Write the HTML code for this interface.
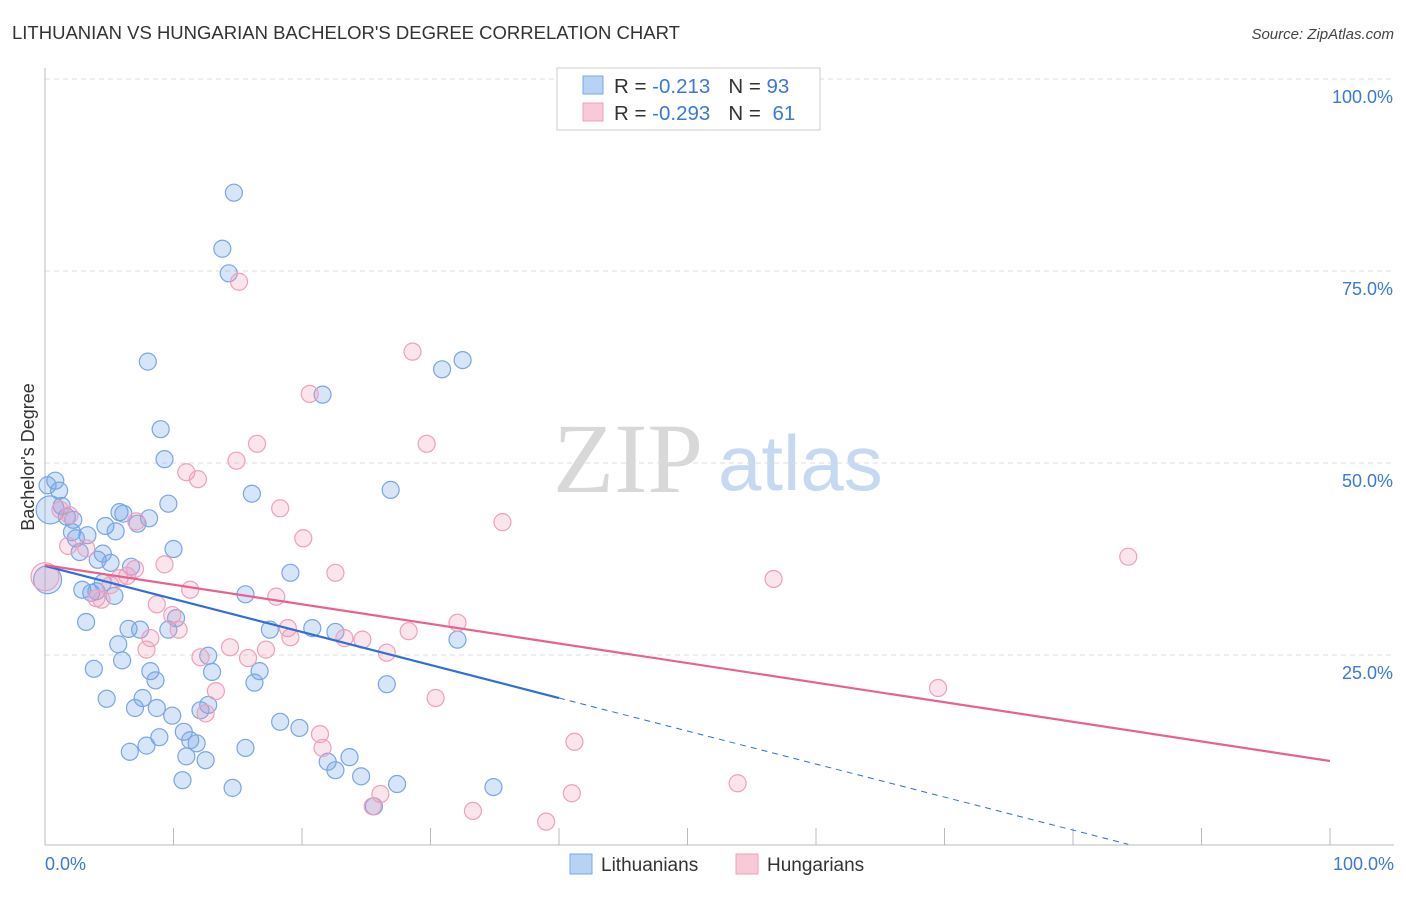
<!DOCTYPE html>
<html><head><meta charset="utf-8"><style>
body{margin:0;background:#fff;font-family:"Liberation Sans",sans-serif;}
svg text{font-family:"Liberation Sans",sans-serif;}
</style></head><body>
<svg id="chart" width="1406" height="892" xmlns="http://www.w3.org/2000/svg">
<text x="12" y="39" font-size="18.5" fill="#333">LITHUANIAN VS HUNGARIAN BACHELOR'S DEGREE CORRELATION CHART</text>
<text x="1394" y="39" font-size="15" fill="#444" text-anchor="end" font-style="italic">Source: ZipAtlas.com</text>
<g>
<text x="553" y="492" font-size="100" fill="#d8d8d8" style="font-family:'Liberation Serif',serif">ZIP</text>
<text x="718" y="490" font-size="78" fill="#c7d9f0">atlas</text>
</g>
<g id="grid"></g>
<g id="axes"></g>
<g id="marks"></g>
<text transform="translate(34,457) rotate(-90)" font-size="18" fill="#333" text-anchor="middle">Bachelor's Degree</text>
<g>
<rect x="557" y="68" width="263" height="62" fill="#fff" stroke="#ccc"/>
<rect x="583" y="76" width="20" height="18" fill="#b8d2f5" stroke="#7fa8e0"/>
<rect x="583" y="103" width="20" height="18" fill="#f9c9d8" stroke="#eea0b8"/>
<text x="614" y="93" font-size="20.5" fill="#333">R = <tspan fill="#3b78d8">-0.213</tspan><tspan dx="18">N = </tspan><tspan fill="#3b78d8">93</tspan></text>
<text x="614" y="120" font-size="20.5" fill="#333">R = <tspan fill="#3b78d8">-0.293</tspan><tspan dx="18">N = </tspan><tspan dx="6" fill="#3b78d8">61</tspan></text>
</g>
<g>
<rect x="570" y="854" width="22" height="20" fill="#b8d2f5" stroke="#7fa8e0"/>
<text x="601" y="871" font-size="19" fill="#333">Lithuanians</text>
<rect x="736" y="854" width="22" height="20" fill="#f9c9d8" stroke="#eea0b8"/>
<text x="767" y="871" font-size="19" fill="#333">Hungarians</text>
</g>
</svg>
<script>
const yTicks=[25,50,75,100];
const yTickLabels=["25.0%","50.0%","75.0%","100.0%"];
const xLabels=["0.0%","100.0%"];
const blueX=[14.7,13.8,14.3,8.0,21.6,32.5,30.9,9.0,9.3,16.1,26.9,9.6,0.8,1.1,0.2,1.3,1.7,2.2,5.8,6.1,8.1,4.7,7.2,5.5,2.1,2.4,3.3,2.7,4.5,10.0,4.1,5.1,6.7,2.9,3.6,4.0,4.5,5.4,19.1,15.6,3.2,6.5,7.4,10.2,9.6,17.5,20.8,22.6,32.1,5.7,6.0,12.7,3.8,8.2,8.6,13.0,16.7,16.3,26.6,4.8,7.6,7.0,8.7,9.9,12.1,12.7,18.3,19.8,10.8,8.9,11.3,11.8,7.9,6.6,11.0,12.5,15.6,22.0,22.6,23.7,24.6,10.7,14.6,27.4,34.9,25.6,0.2,0.4];
const blueY=[85.2,77.9,74.7,63.2,58.9,63.4,62.2,54.4,50.5,46.0,46.5,44.7,47.7,46.4,47.1,44.4,43.0,42.6,43.6,43.4,42.8,41.8,42.1,41.1,41.0,40.2,40.6,38.4,38.2,38.8,37.4,37.0,36.5,33.5,33.1,33.3,34.4,32.7,35.7,32.9,29.3,28.4,28.3,29.8,28.3,28.3,28.5,28.0,27.0,26.4,24.3,24.9,23.2,22.9,21.7,22.8,22.9,21.4,21.2,19.3,19.4,18.1,18.1,17.1,17.8,18.5,16.3,15.5,15.0,14.3,13.9,13.5,13.2,12.4,11.8,11.3,12.9,11.1,10.0,11.7,9.2,8.7,7.7,8.2,7.8,5.3,34.8,43.9];
const blueBig=[86,87];
const pinkX=[15.1,28.6,20.6,29.7,16.5,14.9,11.0,11.9,18.3,35.6,1.9,1.2,7.1,20.1,1.8,3.2,9.3,7.0,5.8,6.4,5.1,84.3,56.7,22.6,11.3,4.0,4.4,18.0,8.7,9.9,10.4,8.2,18.9,19.1,23.3,24.7,28.3,32.1,14.4,17.2,7.9,12.1,15.8,26.6,13.3,30.4,69.5,12.5,21.4,21.6,41.2,53.9,26.1,41.0,25.5,33.3,39.0,0];
const pinkY=[73.6,64.5,59.0,52.5,52.5,50.3,48.8,47.9,44.1,42.3,43.2,43.9,42.4,40.2,39.2,38.9,36.8,36.2,35.0,35.3,34.1,37.8,34.9,35.7,33.5,32.4,32.2,32.6,31.6,30.2,28.3,27.2,28.5,27.3,27.2,27.0,28.1,29.2,26.0,25.7,25.7,24.7,24.6,25.3,20.3,19.4,20.7,17.4,14.7,12.9,13.7,8.3,6.9,7.0,5.3,4.7,3.3,35.2];
const pinkBig=[57];
const blueLine=[36.6,-0.43];
const blueSolidEnd=40, blueDashEnd=84.3;
const pinkLine=[36.7,-0.255];

const NS="http://www.w3.org/2000/svg";
const X=v=>45+v*12.85, Y=v=>847-v*7.68;
function mk(tag,attrs,parent){const e=document.createElementNS(NS,tag);for(const k in attrs)e.setAttribute(k,attrs[k]);parent.appendChild(e);return e;}
const grid=document.getElementById('grid'),axes=document.getElementById('axes'),marks=document.getElementById('marks');
yTicks.forEach((t,i)=>{
 const l=mk('line',{x1:45,x2:1394,y1:Y(t),y2:Y(t),stroke:'#ddd','stroke-dasharray':'5,4'},grid);
 
 
 const tx=mk('text',{x:1393,y:Y(t)+24,'font-size':18,fill:'#3b78d8','text-anchor':'end'},axes);
 tx.textContent=yTickLabels[i];
 
 
});
const ax=mk('line',{x1:45,x2:1394,y1:845,y2:845,stroke:'#bbb'},axes);


const ay=mk('line',{x1:45,x2:45,y1:68,y2:845,stroke:'#bbb'},axes);


for(let i=0;i<=10;i++){const t=mk('line',{x1:X(i*10),x2:X(i*10),y1:828,y2:845,stroke:'#bbb'},axes);
 
 }
[[0,'start',45],[100,'end',1394]].forEach((a,i)=>{const t=mk('text',{x:a[2],y:870,'font-size':18,fill:'#3b78d8','text-anchor':a[1]},axes);t.textContent=xLabels[i];
 
 });
function pts(xs,ys,big,fill,stroke,name){xs.forEach((x,i)=>{const r=big.includes(i)?14:8.5;
 const c=mk('circle',{cx:X(x),cy:Y(ys[i]),r:r,fill:fill,stroke:stroke,'stroke-width':1.2},marks);
 
 });}
pts(blueX,blueY,blueBig,'rgba(110,160,230,0.28)','#7aa6e2','lithuanian-point');
pts(pinkX,pinkY,pinkBig,'rgba(240,150,180,0.25)','#eea0bb','hungarian-point');
const f=(L,x)=>L[0]+L[1]*x;
const b1=mk('line',{x1:X(0),y1:Y(f(blueLine,0)),x2:X(blueSolidEnd),y2:Y(f(blueLine,blueSolidEnd)),stroke:'#2f6fd6','stroke-width':2.2},marks);


const b2=mk('line',{x1:X(blueSolidEnd),y1:Y(f(blueLine,blueSolidEnd)),x2:X(blueDashEnd),y2:Y(f(blueLine,blueDashEnd)),stroke:'#2f6fd6','stroke-width':1,'stroke-dasharray':'6,5'},marks);


const p1=mk('line',{x1:X(0),y1:Y(f(pinkLine,0)),x2:X(100),y2:Y(f(pinkLine,100)),stroke:'#e8628f','stroke-width':2.2},marks);


</script>
</body></html>
